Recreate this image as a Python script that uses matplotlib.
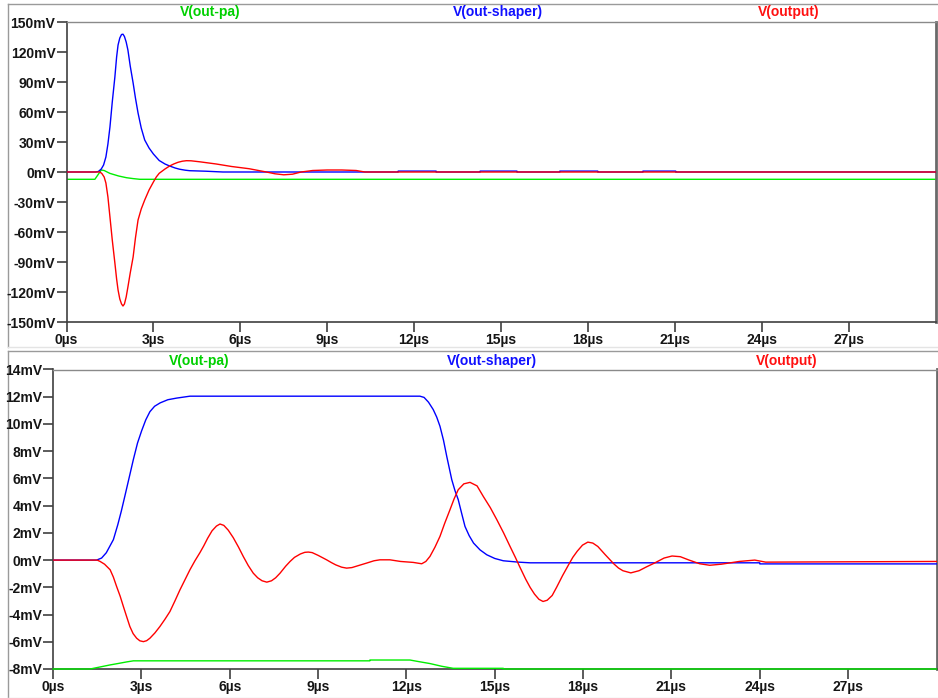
import matplotlib
matplotlib.use('Agg')
import matplotlib.pyplot as plt

# ---------------- data (time in µs, voltage in mV) ----------------
x_ticks = [0, 3, 6, 9, 12, 15, 18, 21, 24, 27]
x_tick_labels = [f"{t}µs" for t in x_ticks]

top_y_ticks = [150, 120, 90, 60, 30, 0, -30, -60, -90, -120, -150]
top_y_labels = [f"{v}mV" for v in top_y_ticks]
bot_y_ticks = [14, 12, 10, 8, 6, 4, 2, 0, -2, -4, -6, -8]
bot_y_labels = [f"{v}mV" for v in bot_y_ticks]

series_names = ["V(out-pa)", "V(out-shaper)", "V(output)"]

# top pane
top_pa_t = [0, 0.98, 1.2, 1.3, 1.5, 1.8, 2.07, 2.3, 2.53, 30]
top_pa_v = [-7.3, -7.3, 2.0, 1.5, -1.4, -4.0, -5.7, -6.6, -7.3, -7.3]

top_shaper_t = [0, 1.0, 1.1, 1.2, 1.28, 1.36, 1.43, 1.5, 1.58, 1.67, 1.73, 1.78, 1.84, 1.9,
                1.95, 2.0, 2.06, 2.12, 2.2, 2.3, 2.38, 2.47, 2.58, 2.7, 2.85, 3.0, 3.2,
                3.4, 3.56, 3.75, 3.9, 4.1, 4.25, 4.8, 5.4,
                11.45, 11.45, 12.76, 12.76, 14.28, 14.28, 15.55, 15.55,
                17.03, 17.03, 18.34, 18.34, 19.9, 19.9, 21.03, 21.03, 30]
top_shaper_v = [0, 0, 0.5, 3, 7, 15, 28, 45, 70, 95, 115, 127, 134, 137.5,
                137.8, 135.5, 130, 122, 106, 89, 74, 59, 44, 32, 24, 18, 11.5,
                8, 6, 4, 2.8, 1.8, 1.3, 0.8, 0,
                0, 0.9, 0.9, 0, 0, 0.9, 0.9, 0,
                0, 0.9, 0.9, 0, 0, 0.9, 0.9, 0, 0]

top_output_t = [0, 1.15, 1.22, 1.3, 1.36, 1.43, 1.5, 1.58, 1.67, 1.73, 1.78, 1.84, 1.9,
                1.95, 2.0, 2.06, 2.12, 2.2, 2.3, 2.38, 2.47, 2.58, 2.7, 2.85, 3.0, 3.1,
                3.2, 3.4, 3.56, 3.7, 3.85, 4.0, 4.14, 4.3, 4.6, 5.17, 5.7, 6.3, 6.9,
                7.2, 7.5, 7.8, 8.1, 8.5, 9.0, 9.5, 10.0, 10.3, 30]
top_output_v = [0, 0, -1.5, -5, -11, -25, -45, -68, -91, -107, -118, -127, -132,
                -134, -132, -125, -115, -101, -85, -66, -48, -37, -28, -18, -10, -5,
                -1.3, 3, 6, 8, 9.7, 10.8, 11.3, 11.2, 10.2, 8, 5.5, 3.3, 0,
                -1.8, -2.8, -2.2, 0, 1.5, 2.0, 2.0, 1.5, 0, 0]

# bottom pane
bot_pa_t = [0, 1.26, 1.6, 1.94, 2.2, 2.5, 2.73, 10.76, 10.76, 12.12, 12.4, 12.8,
            13.2, 13.59, 15.29, 15.29, 30]
bot_pa_v = [-8.0, -8.0, -7.85, -7.7, -7.6, -7.48, -7.4, -7.4, -7.34, -7.34, -7.45, -7.6,
            -7.8, -7.95, -7.95, -8.0, -8.0]

bot_shaper_t = [0, 1.48, 1.65, 1.81, 1.95, 2.05, 2.2, 2.32, 2.44, 2.58, 2.73, 2.87, 3.01,
                3.15, 3.29, 3.45, 3.64, 3.9, 4.2, 4.65,
                12.46, 12.6, 12.75, 12.91, 13.03, 13.14, 13.26, 13.37, 13.54, 13.65,
                13.76, 13.88, 13.99, 14.13, 14.28, 14.5, 14.73, 15.0, 15.29, 15.8, 16.2,
                24.0, 24.0, 30]
bot_shaper_v = [0, 0, 0.15, 0.54, 1.1, 1.5, 2.6, 3.6, 4.7, 6.0, 7.4, 8.6, 9.5,
                10.3, 10.9, 11.3, 11.55, 11.78, 11.9, 12.04,
                12.04, 11.95, 11.6, 11.06, 10.5, 9.83, 8.8, 7.62, 5.91, 5.1,
                4.44, 3.4, 2.47, 1.8, 1.25, 0.75, 0.39, 0.12, -0.05, -0.15, -0.2,
                -0.2, -0.28, -0.28]

bot_output_t = [0, 1.5, 1.6, 1.75, 1.94, 2.05, 2.16, 2.28, 2.39, 2.5, 2.61, 2.72, 2.84,
                2.95, 3.07, 3.18, 3.29, 3.46, 3.63, 3.8, 3.97, 4.14, 4.31, 4.48, 4.65,
                4.82, 4.99, 5.12, 5.25, 5.4, 5.55, 5.67, 5.8, 5.95, 6.12, 6.3, 6.46,
                6.63, 6.8, 6.95, 7.1, 7.26, 7.42, 7.56, 7.71, 7.9, 8.05, 8.2, 8.4,
                8.55, 8.67, 8.8, 9.0, 9.15, 9.29, 9.45, 9.6, 9.8, 9.97, 10.15, 10.3,
                10.65, 10.9, 11.1, 11.44, 11.8, 12.23, 12.52, 12.66, 12.8, 12.97, 13.14,
                13.3, 13.48, 13.62, 13.76, 13.95, 14.16, 14.4, 14.61, 14.85, 15.07, 15.3,
                15.52, 15.7, 15.85, 16.05, 16.2, 16.35, 16.5, 16.64, 16.78, 16.95, 17.1,
                17.3, 17.51, 17.65, 17.8, 17.98, 18.16, 18.33, 18.5, 18.75, 19.04, 19.2,
                19.35, 19.62, 19.9, 20.15, 20.44, 20.75, 21.02, 21.3, 21.6, 21.96, 22.3,
                22.7, 23.3, 23.83, 24.2, 30]
bot_output_v = [0, 0, -0.1, -0.3, -0.71, -1.25, -1.94, -2.65, -3.41, -4.15, -4.88, -5.4, -5.74,
                -5.93, -5.99, -5.92, -5.74, -5.35, -4.88, -4.35, -3.78, -3.0, -2.19, -1.45, -0.71,
                -0.05, 0.55, 1.05, 1.6, 2.15, 2.5, 2.65, 2.55, 2.2, 1.65, 0.95, 0.27,
                -0.4, -0.96, -1.3, -1.52, -1.62, -1.52, -1.3, -0.96, -0.45, -0.1, 0.2, 0.45,
                0.57, 0.59, 0.55, 0.35, 0.18, 0.02, -0.18, -0.35, -0.52, -0.59, -0.55, -0.45,
                -0.22, -0.05, 0.02, 0.02, -0.1, -0.17, -0.27, -0.1, 0.27, 0.95, 1.74,
                2.7, 3.7, 4.5, 5.17, 5.6, 5.71, 5.45, 4.68, 3.85, 2.97, 2.0,
                1.0, 0.2, -0.5, -1.4, -2.0, -2.5, -2.88, -3.04, -2.95, -2.6, -2.0,
                -1.15, -0.33, 0.2, 0.65, 1.1, 1.32, 1.25, 1.0, 0.4, -0.27, -0.58,
                -0.78, -0.94, -0.78, -0.5, -0.2, 0.15, 0.3, 0.25, 0.0, -0.27, -0.38,
                -0.3, -0.1, 0.0, -0.15, -0.1]

# ---------------- styling ----------------
GREEN, BLUE, RED = '#00ee00', '#0000ff', '#ff0000'
TITLE_COLORS = ['#00d000', '#1010ff', '#ff1010']
plt.rcParams['font.family'] = ['Liberation Sans', 'DejaVu Sans']
plt.rcParams['font.weight'] = 'bold'

W, H = 938, 698
fig = plt.figure(figsize=(W / 100, H / 100), dpi=100)
fig.patch.set_facecolor('white')

# pane frames (figure pixel coordinates via an overlay axes)
bg = fig.add_axes([0, 0, 1, 1], zorder=-10)
bg.set_xlim(0, W)
bg.set_ylim(H, 0)
bg.axis('off')
for (y0, y1) in [(3.5, 346.5), (350.5, 697.5)]:
    bg.plot([7.5, W], [y0, y0], color='#9a9a9a', lw=1.0)
    bg.plot([7.5, 7.5], [y0, y1], color='#9a9a9a', lw=1.0)
    bg.plot([7.5, W], [y1, y1], color='#e4e4e4', lw=1.0)


def rect(l, r, t, b):
    return [l / W, 1 - b / H, (r - l) / W, (b - t) / H]


ax1 = fig.add_axes(rect(66.5, 935.5, 22, 322))
ax2 = fig.add_axes(rect(53, 936.5, 369.5, 669))

LW = 1.0


def style(ax, yticks, ylabels, ylim, title_y):
    ax.set_xlim(0, 30)
    ax.set_ylim(*ylim)
    ax.set_xticks(x_ticks)
    ax.set_xticklabels(x_tick_labels)
    ax.set_yticks(yticks)
    ax.set_yticklabels(ylabels)
    ax.tick_params(axis='both', direction='out', length=7, width=1.2,
                   colors='#404040', labelcolor='#151515', labelsize=10)
    ax.tick_params(axis='x', pad=1)
    ax.tick_params(axis='y', pad=1)
    for lbl in ax.get_xticklabels() + ax.get_yticklabels():
        lbl.set_fontweight('bold')
    ax.spines['left'].set_color('#404040')
    ax.spines['bottom'].set_color('#404040')
    ax.spines['left'].set_linewidth(1.2)
    ax.spines['bottom'].set_linewidth(1.2)
    ax.spines['top'].set_color('#8a8a8a')
    ax.spines['top'].set_linewidth(1.0)
    ax.spines['right'].set_color('#6a6a6a')
    ax.spines['right'].set_linewidth(2.0)
    for xf, name, c in zip([0.165, 0.497, 0.831], series_names, TITLE_COLORS):
        ax.text(xf, title_y, name, transform=ax.transAxes, ha='center', va='center',
                color=c, fontsize=10, fontweight='bold')


style(ax1, top_y_ticks, top_y_labels, (-150, 150), 1.032)
style(ax2, bot_y_ticks, bot_y_labels, (-8, 14), 1.028)

ax1.plot(top_pa_t, top_pa_v, color=GREEN, lw=LW, zorder=2)
ax1.plot(top_shaper_t, top_shaper_v, color=BLUE, lw=LW, zorder=3)
ax1.plot(top_output_t, top_output_v, color=RED, lw=LW, zorder=4)

ax2.plot(bot_pa_t, bot_pa_v, color=GREEN, lw=LW, zorder=5, clip_on=False)
ax2.plot(bot_shaper_t, bot_shaper_v, color=BLUE, lw=LW, zorder=3)
ax2.plot(bot_output_t, bot_output_v, color=RED, lw=LW, zorder=4)

fig.savefig('out.png', dpi=100, facecolor='white')
